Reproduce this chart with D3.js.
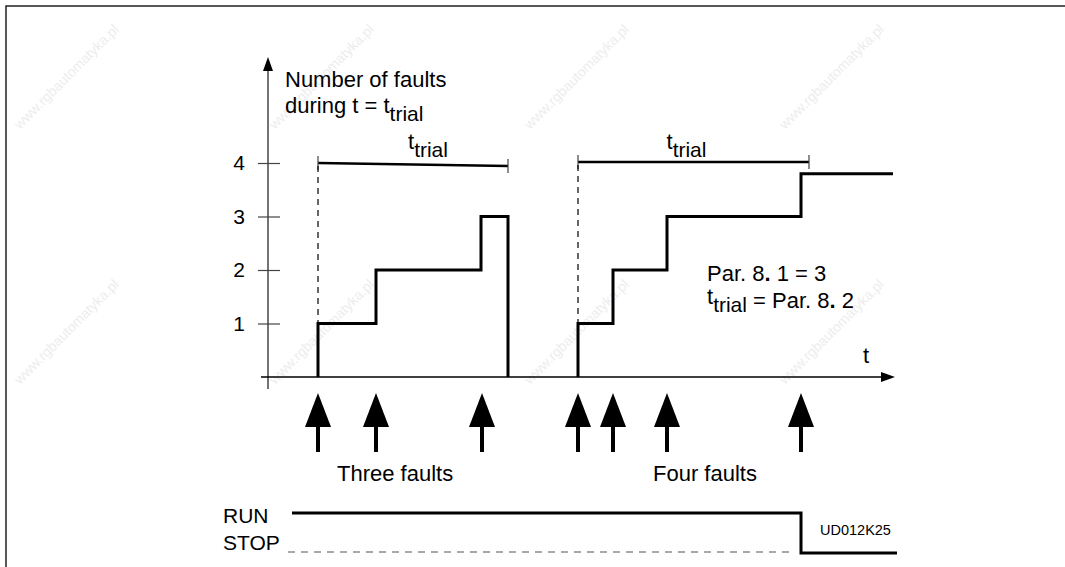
<!DOCTYPE html>
<html>
<head>
<meta charset="utf-8">
<script src="https://cdn.jsdelivr.net/npm/d3@7"></script>
<style>
  body { margin: 0; background: #fff; }
  svg { display: block; font-family: "Liberation Sans", Arial, sans-serif; }
</style>
</head>
<body>
<div id="chart"></div>
<script>
var w = 1065;
var h = 567;

// time in arbitrary units, faults counted as steps
var yTicks = [1, 2, 3, 4];
var firstTimes = [1.0, 2.16, 4.26];
var firstLevels = [1, 2, 3];
var firstEnd = 4.8;
var secondTimes = [6.2, 6.9, 7.98, 10.66];
var secondLevels = [1, 2, 3, 3.8];
var secondEnd = 12.5;
var trialSpans = [[1.0, 4.8], [6.2, 10.82]];
var faultTimes = [1.0, 2.16, 4.28, 6.2, 6.9, 7.98, 10.66];
var groupLabels = [["Three faults", 1.38], ["Four faults", 7.7]];
var stopTime = 10.66;

var svg = d3.select("#chart").append("svg").attr("width", w).attr("height", h);

var x = d3.scaleLinear().domain([0, 12.5]).range([268, 893]);
var y = d3.scaleLinear().domain([0, 4]).range([377, 163]);

// faint watermark, kept inside the picture
var wm = svg.append("g").attr("fill", "#ededed").attr("font-size", 14);
for (var gx = 20; gx < w - 100; gx = gx + 255) {
  for (var gy = 130; gy < h; gy = gy + 255) {
    wm.append("text").text("www.rgbautomatyka.pl")
      .attr("transform", "translate(" + gx + "," + gy + ") rotate(-45)");
  }
}

// frame
svg.append("path").attr("d", "M6," + h + " V6 H" + w)
  .attr("fill", "none").attr("stroke", "#222").attr("stroke-width", 1.5);

// axes
var axisCol = "#444";
svg.append("line").attr("x1", x(0)).attr("x2", x(0)).attr("y1", 68).attr("y2", 389)
  .attr("stroke", axisCol).attr("stroke-width", 1.5);
svg.append("path").attr("d", "M" + x(0) + ",57 L" + (x(0) - 5) + ",71 L" + (x(0) + 5) + ",71 Z").attr("fill", "#000");
svg.append("line").attr("x1", 261).attr("x2", x(12.3)).attr("y1", y(0)).attr("y2", y(0))
  .attr("stroke", "#000").attr("stroke-width", 1.5);
svg.append("path").attr("d", "M" + (x(12.5) + 2) + "," + y(0) + " L" + (x(12.5) - 12) + "," + (y(0) - 5) + " L" + (x(12.5) - 12) + "," + (y(0) + 5) + " Z").attr("fill", "#000");

var yAxis = svg.append("g").attr("transform", "translate(" + x(0) + ",0)")
  .call(d3.axisLeft(y).tickValues(yTicks).tickSize(10).tickPadding(13).tickFormat(d3.format("d")));
yAxis.select(".domain").remove();
yAxis.selectAll(".tick line").attr("x1", 12).attr("stroke", axisCol).attr("stroke-width", 1.2);
yAxis.selectAll(".tick text").attr("font-size", 21).attr("fill", "#000")
  .attr("font-family", "Liberation Sans, Arial, sans-serif");

svg.append("text").attr("x", 285).attr("y", 87).attr("font-size", 22).text("Number of faults");
var t1 = svg.append("text").attr("x", 285).attr("y", 113).attr("font-size", 22);
t1.append("tspan").text("during t = t");
t1.append("tspan").attr("dy", 8).attr("font-size", 21).text("trial");

svg.append("text").attr("x", x(11.9)).attr("y", 363).attr("font-size", 22).text("t");

// step lines
function stepPath(times, levels, end, dropAtEnd) {
  var d = "M" + x(times[0]) + "," + y(0);
  for (var i = 0; i < times.length; i = i + 1) {
    d += " V" + y(levels[i]);
    var nx = i < times.length - 1 ? times[i + 1] : end;
    d += " H" + x(nx);
  }
  if (dropAtEnd) d += " V" + y(0);
  return d;
}
svg.append("path").attr("d", stepPath(firstTimes, firstLevels, firstEnd, true))
  .attr("fill", "none").attr("stroke", "#000").attr("stroke-width", 3);
svg.append("path").attr("d", stepPath(secondTimes, secondLevels, secondEnd, false))
  .attr("fill", "none").attr("stroke", "#000").attr("stroke-width", 3);

// t_trial brackets
trialSpans.forEach(function (s, i) {
  var yl = y(4) + (i == 0 ? 0 : -1);
  var yr = y(4) + (i == 0 ? 3 : -1);
  svg.append("line").attr("x1", x(s[0])).attr("x2", x(s[1])).attr("y1", yl).attr("y2", yr)
    .attr("stroke", "#000").attr("stroke-width", 2.5);
  svg.append("line").attr("x1", x(s[0])).attr("x2", x(s[0])).attr("y1", yl - 7).attr("y2", yl + 7)
    .attr("stroke", "#444").attr("stroke-width", 1.2);
  svg.append("line").attr("x1", x(s[1])).attr("x2", x(s[1])).attr("y1", yr - 7).attr("y2", yr + 7)
    .attr("stroke", "#444").attr("stroke-width", 1.2);
  svg.append("line").attr("x1", x(s[0])).attr("x2", x(s[0])).attr("y1", yl + 3).attr("y2", y(1))
    .attr("stroke", "#000").attr("stroke-width", 1.2).attr("stroke-dasharray", "6,5");
  var lab = svg.append("text").attr("x", (x(s[0]) + x(s[1])) / 2 - 5 + (i == 0 ? 0 : -22)).attr("y", 149).attr("font-size", 22);
  lab.append("tspan").text("t");
  lab.append("tspan").attr("dy", 8).attr("font-size", 21).text("trial");
});

// parameter note
var p1 = svg.append("text").attr("x", 707).attr("y", 281).attr("font-size", 22);
p1.append("tspan").text("Par. 8");
p1.append("tspan").attr("font-weight", "bold").text(".");
p1.append("tspan").text(" 1 = 3");
var p2 = svg.append("text").attr("x", 707).attr("y", 304).attr("font-size", 22);
p2.append("tspan").text("t");
p2.append("tspan").attr("dy", 8).attr("font-size", 21).text("trial");
p2.append("tspan").attr("dy", -4).text(" = Par. 8");
p2.append("tspan").attr("font-weight", "bold").text(".");
p2.append("tspan").text(" 2");

// fault arrows
svg.selectAll(".fault").data(faultTimes).enter().append("g").attr("class", "fault")
  .attr("transform", function (d) { return "translate(" + x(d) + ",0)"; })
  .each(function () {
    var g = d3.select(this);
    g.append("path").attr("d", "M0,393 L-13,427 L13,427 Z").attr("fill", "#000");
    g.append("line").attr("x1", 0).attr("x2", 0).attr("y1", 425).attr("y2", 452)
      .attr("stroke", "#000").attr("stroke-width", 4);
  });

groupLabels.forEach(function (g) {
  svg.append("text").attr("x", x(g[1])).attr("y", 481).attr("font-size", 22).text(g[0]);
});

// RUN / STOP
svg.append("text").attr("x", 223).attr("y", 523).attr("font-size", 21).text("RUN");
svg.append("text").attr("x", 223).attr("y", 550).attr("font-size", 21).text("STOP");
svg.append("path").attr("d", "M292,513 H" + x(stopTime) + " V553 H897")
  .attr("fill", "none").attr("stroke", "#000").attr("stroke-width", 3);
svg.append("line").attr("x1", 288).attr("x2", x(stopTime) - 8).attr("y1", 552).attr("y2", 552)
  .attr("stroke", "#555").attr("stroke-width", 1.2).attr("stroke-dasharray", "7,6");

svg.append("text").attr("x", 820).attr("y", 535).attr("font-size", 14.5).text("UD012K25");
</script>
</body>
</html>
